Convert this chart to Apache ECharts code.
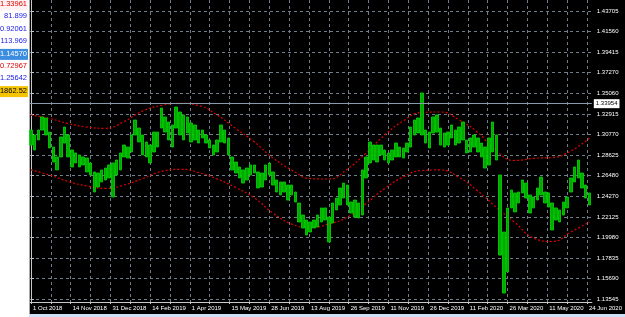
<!DOCTYPE html>
<html><head><meta charset="utf-8">
<script src="https://cdn.jsdelivr.net/npm/echarts@6/dist/echarts.min.js"></script>
<style>
html,body{margin:0;padding:0;background:#fff;}
#wrap{position:relative;width:625px;height:317px;overflow:hidden;background:#fff;}
#win{position:absolute;left:29px;top:0;width:596px;height:314px;background:#000;border-left:1px solid #a8a8a8;box-sizing:border-box;}
#strip{position:absolute;left:29px;top:314px;width:596px;height:3px;background:#cfe2f5;}
#c{position:absolute;left:0;top:0;width:625px;height:317px;}
</style></head><body>
<div id="wrap"><div id="win"></div><div id="strip"></div><div id="c"></div></div>
<script>
// ---- data ----
const xLabels = ['1 Oct 2018','14 Nov 2018','31 Dec 2018','14 Feb 2019','1 Apr 2019','15 May 2019','28 Jun 2019','13 Aug 2019','26 Sep 2019','11 Nov 2019','26 Dec 2019','11 Feb 2020','26 Mar 2020','11 May 2020','24 Jun 2020'];
const xLabelBars = [0,32,64,96,128,160,192,224,256,288,320,352,384,416,448];
const xGridBars = [0,16,32,48,64,80,96,112,128,144,160,176,192,208,224,240,256,272,288,304,320,336,352,368,384,400,416,432,448];
const yTicks = [1.13545,1.15690,1.17835,1.19980,1.22125,1.24270,1.26480,1.28625,1.30770,1.32915,1.35060,1.37270,1.39415,1.41560,1.43705];
const bidPrice = 1.33954;
const panelValues = ['1.33961','81.899','0.92061','113.969','1.14570','0.72967','1.25642','1862.52'];

// price columns (every 3 bars): high / low
const highs = [1.3124,1.3072,1.3124,1.3261,1.3250,1.3103,1.2946,1.2842,1.3051,1.3156,
1.3072,1.2915,1.2884,1.2863,1.2842,1.2831,1.2779,1.2685,1.2674,1.2706,
1.2726,1.2758,1.2779,1.2810,1.2884,1.2967,1.2946,1.3072,1.3229,1.3145,
1.3072,1.2999,1.2967,1.3103,1.3103,1.3355,1.3261,1.3208,1.3177,1.3365,
1.3313,1.3282,1.3261,1.3198,1.3177,1.3124,1.3124,1.3072,1.3020,1.2967,
1.3020,1.3177,1.3124,1.3041,1.2842,1.2789,1.2737,1.2706,1.2726,1.2758,
1.2758,1.2685,1.2674,1.2758,1.2779,1.2685,1.2601,1.2580,1.2580,1.2548,
1.2548,1.2475,1.2360,1.2234,1.2182,1.2161,1.2182,1.2234,1.2308,1.2308,
1.2213,1.2360,1.2412,1.2517,1.2569,1.2548,1.2370,1.2391,1.2360,1.2706,
1.2842,1.2999,1.2967,1.2967,1.2967,1.2915,1.2884,1.2915,1.2988,1.2946,
1.2936,1.2988,1.3156,1.3229,1.3250,1.3512,1.3124,1.3103,1.3261,1.3282,
1.3145,1.3093,1.3103,1.3177,1.3124,1.3156,1.3208,1.3020,1.3041,1.3072,
1.3041,1.2988,1.2946,1.3041,1.3208,1.3072,1.2653,1.2056,1.2308,1.2496,
1.2465,1.2475,1.2601,1.2569,1.2444,1.2423,1.2517,1.2632,1.2475,1.2465,
1.2360,1.2308,1.2287,1.2370,1.2423,1.2622,1.2737,1.2810,1.2674,1.2548,
1.2465];
const lows = [1.2967,1.2915,1.3020,1.3124,1.3072,1.2936,1.2789,1.2706,1.2842,1.2988,
1.2842,1.2737,1.2779,1.2737,1.2758,1.2685,1.2653,1.2475,1.2527,1.2580,
1.2601,1.2622,1.2423,1.2653,1.2706,1.2842,1.2831,1.2894,1.3072,1.2999,
1.2863,1.2842,1.2779,1.2894,1.2946,1.3145,1.3103,1.3020,1.2946,1.3145,
1.3072,1.3020,1.3093,1.2999,1.3020,1.2988,1.3041,1.2988,1.2936,1.2863,
1.2894,1.2999,1.2988,1.2863,1.2706,1.2674,1.2622,1.2569,1.2601,1.2653,
1.2674,1.2517,1.2527,1.2601,1.2653,1.2548,1.2475,1.2444,1.2475,1.2391,
1.2444,1.2370,1.2161,1.2098,1.2025,1.2056,1.2098,1.2109,1.2161,1.2182,
1.1952,1.2150,1.2287,1.2339,1.2412,1.2339,1.2255,1.2213,1.2203,1.2234,
1.2622,1.2779,1.2810,1.2789,1.2863,1.2810,1.2779,1.2810,1.2842,1.2842,
1.2831,1.2894,1.2946,1.3072,1.3093,1.3072,1.2988,1.2936,1.3093,1.3103,
1.2967,1.2946,1.2967,1.3041,1.2967,1.2988,1.3020,1.2884,1.2894,1.2946,
1.2894,1.2842,1.2726,1.2758,1.2894,1.2810,1.1815,1.1417,1.1637,1.2308,
1.2266,1.2360,1.2465,1.2412,1.2255,1.2308,1.2391,1.2444,1.2360,1.2318,
1.2077,1.2182,1.2161,1.2234,1.2308,1.2475,1.2580,1.2622,1.2517,1.2412,
1.2339];

// envelope bands (bar index every 15 bars)
const bandBars = [0,15,30,45,60,75,90,105,120,135,150,165,180,195,210,225,240,255,270,285,300,315,330,345,360,375,390,405,420,435,450];
const upperBand = [1.3281,1.3245,1.3192,1.3156,1.3142,1.3213,1.3323,1.3381,1.3404,1.3381,1.3281,1.3140,1.2999,1.2831,1.2706,1.2616,1.2611,1.2716,1.2884,1.3072,1.3219,1.3308,1.3313,1.3229,1.3098,1.2904,1.2805,1.2828,1.2836,1.2904,1.3041];
const lowerBand = [1.2706,1.2653,1.2585,1.2538,1.2512,1.2548,1.2616,1.2690,1.2713,1.2679,1.2611,1.2522,1.2412,1.2255,1.2140,1.2103,1.2140,1.2213,1.2355,1.2512,1.2632,1.2700,1.2706,1.2627,1.2486,1.2313,1.2156,1.1993,1.1957,1.2056,1.2161];

// ---- chart ----
const FONT = 'Liberation Sans';
const candleData = highs.map((h, i) => [i * 3, lows[i], h, lows[i], h]);
const upData = bandBars.map((b, i) => [b, upperBand[i]]);
const loData = bandBars.map((b, i) => [b, lowerBand[i]]);

const panelColors = [
  {fg:'#e00000', bg:'#fff2f2'}, {fg:'#1a1ae6', bg:'#ffffff'}, {fg:'#1a1ae6', bg:'#ffffff'},
  {fg:'#1a1ae6', bg:'#ffffff'}, {fg:'#ffffff', bg:'#3b8de0'}, {fg:'#e00000', bg:'#ffffff'},
  {fg:'#1a1ae6', bg:'#ffffff'}, {fg:'#000000', bg:'#f5c400'}
];
const graphics = [];
panelValues.forEach((v, i) => {
  const cy = 4.8 + 12.4 * i;
  graphics.push({type:'rect', left:0, top:cy - 5.5, shape:{width:28, height:11}, style:{fill:panelColors[i].bg}, silent:true});
  graphics.push({type:'text', right:625 - 27, top:cy - 4.8, style:{text:v, fill:panelColors[i].fg, font:'7.5px "' + FONT + '"', textAlign:'right'}, silent:true});
});

const chart = echarts.init(document.getElementById('c'), null, {renderer:'canvas'});
chart.setOption({
  animation:false,
  backgroundColor:'transparent',
  graphic: graphics,
  grid:{left:30, right:31, top:0, bottom:15, containLabel:false},
  xAxis:{
    type:'value', min:-0.8, max:451.9,
    axisLine:{show:true, lineStyle:{color:'#c8c8c8', width:1}},
    axisTick:{show:true, customValues:xGridBars, length:2, lineStyle:{color:'#c8c8c8'}},
    axisLabel:{customValues:xLabelBars, formatter:(v) => { const j = xLabelBars.indexOf(v); return j >= 0 ? xLabels[j] : ''; },
      align:'left', color:'#ffffff', fontSize:6, fontFamily:FONT, margin:3, padding:[0,0,0,2]},
    splitLine:{show:true, lineStyle:{color:'#6f7d8c', type:[3,3], width:1}}
  },
  yAxis:{
    type:'value', position:'right', min:1.13232, max:1.44857, scale:true,
    axisLine:{show:true, lineStyle:{color:'#c8c8c8', width:1}},
    axisTick:{show:true, customValues:yTicks, length:3, lineStyle:{color:'#c8c8c8'}},
    axisLabel:{customValues:yTicks, formatter:(v) => v.toFixed(5), color:'#ffffff', fontSize:6, fontFamily:FONT, margin:5},
    splitLine:{show:true, lineStyle:{color:'#6f7d8c', type:[3,3], width:1}}
  },
  series:[
    {
      type:'line', data:upData, smooth:true, showSymbol:false, silent:true,
      lineStyle:{color:'#e00000', type:[2,2], width:1.2}, z:3,
      markLine:{
        silent:true, symbol:['none','none'],
        lineStyle:{color:'#8a9aaa', type:'solid', width:1},
        label:{show:true, position:'end', formatter:bidPrice.toFixed(5), backgroundColor:'#ffffff', color:'#000000',
          fontSize:6, fontFamily:FONT, padding:[2,2,1,2], distance:2},
        data:[{yAxis:bidPrice}]
      }
    },
    {type:'line', data:loData, smooth:true, showSymbol:false, silent:true, lineStyle:{color:'#e00000', type:[2,2], width:1.2}, z:3},
    {
      type:'candlestick', data:candleData, barWidth:3, silent:true, z:4,
      encode:{x:0, y:[1,2,3,4]},
      itemStyle:{color:'#00a800', color0:'#00a800', borderColor:'#00dc00', borderColor0:'#00dc00', borderWidth:0.8}
    }
  ]
});
</script>
</body></html>
